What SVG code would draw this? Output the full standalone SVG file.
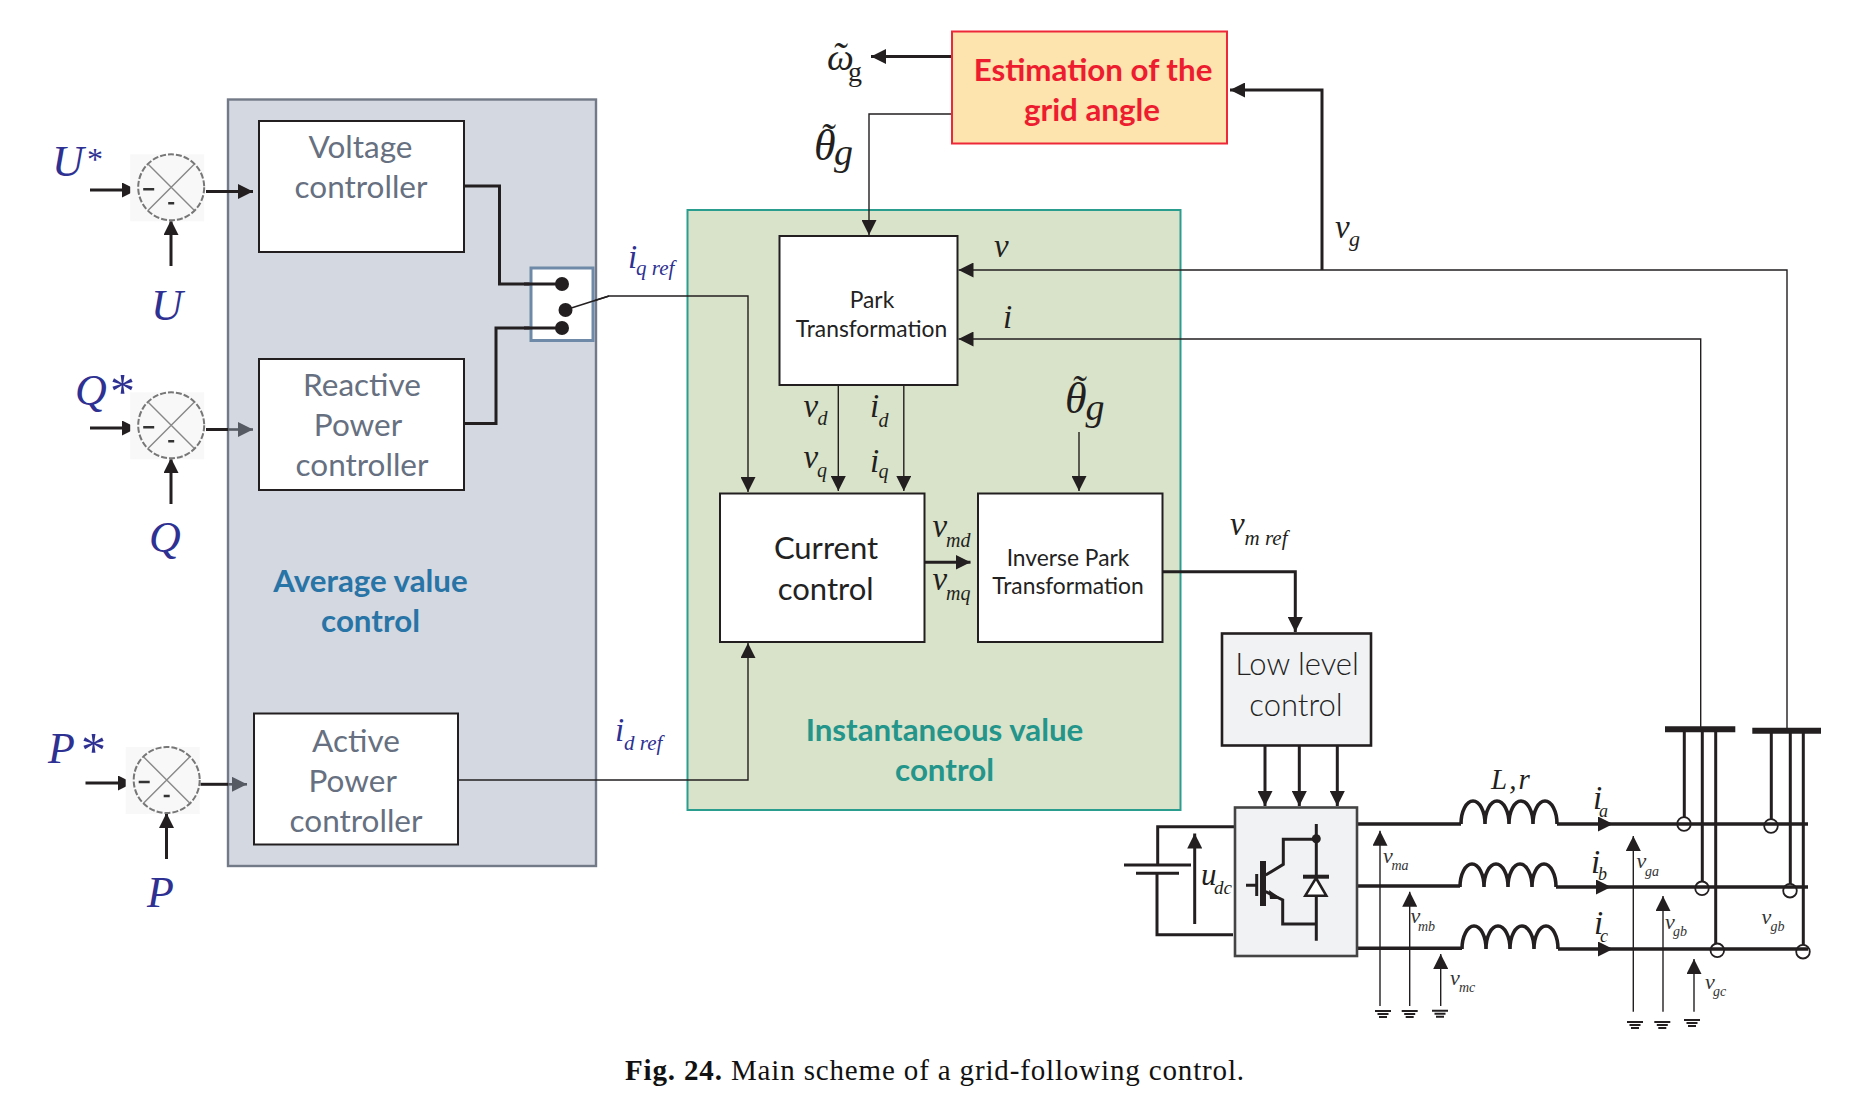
<svg xmlns="http://www.w3.org/2000/svg" width="1868" height="1104" viewBox="0 0 1868 1104">
<style>
.w{font-family:"Lato","Open Sans","Liberation Sans",sans-serif;text-anchor:middle}
.g{fill:#667080;font-size:31.500px}
.d{fill:#222;font-size:31px}
.s{fill:#222;font-size:22.800px}
.b{font-weight:700;font-size:31.300px}
.m{font-family:"Liberation Serif",serif;font-style:italic;fill:#231f20}
.bl{fill:#2e3192;font-size:44px}
.v{font-size:33px}
.sm{font-size:22px;fill:#333}
.box{fill:#fff;stroke:#231f20;stroke-width:2}
.w1{fill:none;stroke:#231f20;stroke-width:1.4}
.w2{fill:none;stroke:#231f20;stroke-width:3}
.w3{fill:none;stroke:#231f20;stroke-width:3.6}
.w4{fill:none;stroke:#231f20;stroke-width:3}
.a{marker-end:url(#ah)}
.ag{marker-end:url(#ag)}
</style>
<defs>
<marker id="ah" viewBox="0 0 15 15" markerUnits="userSpaceOnUse" markerWidth="15" markerHeight="15" refX="15" refY="7.500" orient="auto"><path d="M0 0L15 7.500L0 15z" fill="#231f20"/></marker>
<marker id="ag" viewBox="0 0 15 15" markerUnits="userSpaceOnUse" markerWidth="15" markerHeight="15" refX="15" refY="7.500" orient="auto"><path d="M0 0L15 7.500L0 15z" fill="#555a63"/></marker>
<g id="sum">
<rect x="-41" y="-33" width="74" height="67" fill="#f8f8f8"/>
<circle r="33" fill="#f8f8f8" stroke="#777" stroke-width="2" stroke-dasharray="6 2"/>
<path d="M-23-23L23 23M23-23L-23 23" fill="none" stroke="#888" stroke-width="1.400"/>
<path d="M-28 2h11M-3 16h6" stroke="#333" stroke-width="2.400" fill="none"/>
</g>
<g id="gnd"><path d="M-8 0h16M-5.500 3h11M-4 6h8" stroke="#231f20" stroke-width="2" fill="none"/></g>
</defs>
<rect width="1868" height="1104" fill="#fff"/>

<g id="average-value-control">
<rect x="228" y="99.500" width="368" height="766.500" fill="#d3d8e1" stroke="#737a87" stroke-width="2.400"/>
<text class="w b" x="370.500" y="592" fill="#2874a6">Average value</text>
<text class="w b" x="370.500" y="632" fill="#2874a6">control</text>
</g>
<g id="instantaneous-value-control">
<rect x="687.500" y="210" width="493" height="600" fill="#d9e3ca" stroke="#2a9d8f" stroke-width="2"/>
<text class="w b" x="944.500" y="741" fill="#24958a">Instantaneous value</text>
<text class="w b" x="944.500" y="781" fill="#24958a">control</text>
</g>

<g id="connectors">
<path class="w2 a" d="M90 190H137"/>
<path class="w2 a" d="M206 191.500H253"/>
<path class="w2 a" d="M171 266V220"/>
<path class="w2 a" d="M90 428H137"/>
<path class="w2" d="M206 429.500H228"/>
<path class="ag" d="M228 429.500H253" fill="none" stroke="#555a63" stroke-width="2.600"/>
<path class="w2 a" d="M171 504V458"/>
<path class="w2 a" d="M85.500 783H133"/>
<path class="w2" d="M200.500 784.300H228"/>
<path class="ag" d="M228 784.300H247" fill="none" stroke="#555a63" stroke-width="2.600"/>
<path class="w2 a" d="M166.500 859V813"/>
<path class="w2" d="M464 186H499.500V284H562"/>
<path class="w2" d="M464 423.500H496V328H562"/>
<path class="w1 a" d="M565 310L609 296H748V492"/>
<path class="w1 a" d="M458 780H748V643"/>
<path class="w2 a" d="M952 56.500H871"/>
<path class="w1 a" d="M952 114H869V235"/>
<path class="w2 a" d="M1322 270V90H1230"/>
<path class="w1 a" d="M1787 730V270H958.500"/>
<path class="w1 a" d="M1700.700 729V339H958.500"/>
<path class="w1 a" d="M838.300 385V491"/>
<path class="w1 a" d="M903.800 385V491"/>
<path class="w2 a" d="M925 562.300H970.500"/>
<path class="w1 a" d="M1079 432V491" stroke-width="2"/>
<path class="w2 a" d="M1162 571.700H1295.300V632"/>
<path class="w2 a" d="M1265 746V806"/>
<path class="w2 a" d="M1299.300 746V806"/>
<path class="w2 a" d="M1337.300 746V806"/>
<path class="w2" d="M1235 826.700H1157.700V865M1157 873V934.700H1233"/>
<path class="w2 a" d="M1194.700 924V833.500"/>
<path class="w3" d="M1357 824H1461M1357 886H1460M1357 948.300H1462"/>
<path class="w3" d="M1461 824a12 23 0 0 1 24 0a12 23 0 0 1 24 0a12 23 0 0 1 24 0a12 23 0 0 1 24 0"/>
<path class="w3" d="M1460 887a12 23 0 0 1 24 0a12 23 0 0 1 24 0a12 23 0 0 1 24 0a12 23 0 0 1 24 0"/>
<path class="w3" d="M1462 949a12 23 0 0 1 24 0a12 23 0 0 1 24 0a12 23 0 0 1 24 0a12 23 0 0 1 24 0"/>
<path class="w3 a" d="M1557 824H1613"/>
<path class="w3 a" d="M1556 887H1611"/>
<path class="w3 a" d="M1558 949H1613"/>
<path class="w3" d="M1613 824H1808M1611 887H1808M1613 949H1808"/>
<path class="w1 a" d="M1380 1006V830.700" stroke-width="1.800"/>
<path class="w1 a" d="M1409.700 1006V891.700"/>
<path class="w1 a" d="M1440.700 1006V954"/>
<path class="w1 a" d="M1633.300 1011.700V836"/>
<path class="w1 a" d="M1663 1011.700V896"/>
<path class="w1 a" d="M1694 1011.700V959"/>
<path class="w4" d="M1684.300 729V817M1702.300 729V881M1715.700 729V943M1771.300 731V819M1790.300 731V884M1803.300 731V945"/>
<path d="M1665 729.300H1735.300M1752.300 730.700H1821" fill="none" stroke="#231f20" stroke-width="6"/>
</g>

<g id="switch">
<rect x="531" y="268" width="62" height="72.500" fill="#fff" stroke="#6f8aa8" stroke-width="3"/>
<path class="w2" d="M524 284H562M524 328H562"/>
<circle cx="562" cy="284" r="7" fill="#231f20"/>
<circle cx="565.500" cy="310" r="7" fill="#231f20"/>
<circle cx="562" cy="328" r="7" fill="#231f20"/>
<path class="w1" d="M565 310L609 296"/>
</g>

<g id="sum-u"><use href="#sum" x="171.200" y="187.300"/></g>
<g id="sum-q"><use href="#sum" x="171.200" y="425.300"/></g>
<g id="sum-p"><use href="#sum" x="166.700" y="780"/></g>

<g id="inputs">
<text class="m bl" x="52" y="176">U<tspan x="87" y="170" font-size="32" font-style="normal">*</tspan></text>
<text class="m bl" x="151" y="320">U</text>
<text class="m bl" x="75" y="405">Q<tspan x="110" y="408" font-size="50" font-style="normal">*</tspan></text>
<text class="m bl" x="149" y="552">Q</text>
<text class="m bl" x="48" y="763">P<tspan x="81" y="767" font-size="50" font-style="normal">*</tspan></text>
<text class="m bl" x="147" y="907">P</text>
</g>

<g id="voltage-controller">
<rect class="box" x="259" y="121" width="205" height="131" stroke-width="2.600"/>
<text class="w g" x="360.500" y="158">Voltage</text>
<text class="w g" x="361" y="198">controller</text>
</g>
<g id="reactive-power-controller">
<rect class="box" x="259" y="359" width="205" height="131"/>
<text class="w g" x="362" y="396">Reactive</text>
<text class="w g" x="358" y="436">Power</text>
<text class="w g" x="362" y="476">controller</text>
</g>
<g id="active-power-controller">
<rect class="box" x="254" y="713.500" width="204" height="131"/>
<text class="w g" x="356" y="751.500">Active</text>
<text class="w g" x="352.700" y="792">Power</text>
<text class="w g" x="356" y="831.500">controller</text>
</g>
<g id="estimation">
<rect x="952" y="31.500" width="275" height="112" fill="#fde3ad" stroke="#ed2939" stroke-width="2"/>
<text class="w b" x="1093" y="80.500" fill="#ed1c2e">Estimation of the</text>
<text class="w b" x="1092" y="120.500" fill="#ed1c2e">grid angle</text>
</g>
<g id="park">
<rect class="box" x="779.500" y="236" width="178" height="149"/>
<text class="w s" x="872" y="308">Park</text>
<text class="w s" x="871.500" y="337">Transformation</text>
</g>
<g id="current-control">
<rect class="box" x="720" y="493.500" width="204.500" height="148.500"/>
<text class="w d" x="826" y="558.500">Current</text>
<text class="w d" x="825.700" y="599.500">control</text>
</g>
<g id="inverse-park">
<rect class="box" x="978" y="493.500" width="184.500" height="148.500" stroke-width="2.600"/>
<text class="w s" x="1068" y="565.500">Inverse Park</text>
<text class="w s" x="1068" y="594">Transformation</text>
</g>
<g id="low-level-control">
<rect x="1222" y="633.500" width="149" height="112" fill="#f1f2f4" stroke="#231f20" stroke-width="2.600"/>
<text class="w d" x="1297" y="675" font-weight="300">Low level</text>
<text class="w d" x="1296" y="715.500" font-weight="300">control</text>
</g>

<g id="inverter">
<rect x="1235" y="807.500" width="122" height="148.500" fill="#f1f2f4" stroke="#444" stroke-width="2.600"/>
<path class="w4" d="M1246 885.300H1256.700M1265.700 875L1283.300 864.300V839.300H1316.300M1316.300 824V940.700M1265.700 891.700L1282.700 900V924H1316"/>
<path d="M1256.700 874V896" stroke="#231f20" stroke-width="3"/>
<path d="M1263 861V906" stroke="#231f20" stroke-width="6"/>
<circle cx="1316.300" cy="838.700" r="4.500" fill="#231f20"/>
<path d="M1303 876.700H1329" stroke="#231f20" stroke-width="4"/>
<path d="M1316 878L1326.300 895.700H1305.300z" fill="#fff" stroke="#231f20" stroke-width="2.600"/>
<path d="M1269 890L1282 899L1270 899z" fill="#231f20"/>
</g>
<g id="battery">
<path d="M1124 865H1191M1136 873.300H1179" stroke="#231f20" stroke-width="3" fill="none"/>
</g>
<g id="grounds">
<use href="#gnd" x="1383" y="1011"/><use href="#gnd" x="1409.700" y="1011"/><use href="#gnd" x="1440" y="1010.700"/>
<use href="#gnd" x="1635" y="1022"/><use href="#gnd" x="1662.300" y="1022"/><use href="#gnd" x="1692" y="1020"/>
</g>
<g id="taps" fill="none" stroke="#231f20" stroke-width="1.800">
<circle cx="1684" cy="824" r="6.800"/><circle cx="1702" cy="888.300" r="6.800"/><circle cx="1717.300" cy="950.300" r="6.800"/>
<circle cx="1771" cy="826" r="6.800"/><circle cx="1790" cy="890.700" r="6.800"/><circle cx="1803" cy="951.700" r="6.800"/>
</g>

<g id="labels">
<text class="m" x="827" y="70" font-size="38">ω<tspan x="832" y="70" font-size="40">˜</tspan><tspan x="848" y="81" font-size="28" font-style="normal">g</tspan></text>
<text class="m" x="814" y="160" font-size="44">θ<tspan x="820" y="151" font-size="40">˜</tspan><tspan x="834" y="165" font-size="38">g</tspan></text>
<text class="m" x="1065" y="413" font-size="44">θ<tspan x="1071" y="403" font-size="40">˜</tspan><tspan x="1085.500" y="420" font-size="38">g</tspan></text>
<text class="m v" x="994" y="257">v</text>
<text class="m v" x="1003" y="328">i</text>
<text class="m v" x="1335" y="238">v<tspan x="1349" y="246" font-size="22">g</tspan></text>
<text class="m v" x="803.500" y="417">v<tspan x="817.500" y="425" font-size="20">d</tspan></text>
<text class="m v" x="870" y="417">i<tspan x="878.500" y="427" font-size="20">d</tspan></text>
<text class="m v" x="803.500" y="468">v<tspan x="817" y="476.500" font-size="20">q</tspan></text>
<text class="m v" x="870" y="471.500">i<tspan x="878.500" y="478" font-size="20">q</tspan></text>
<text class="m v" x="932.500" y="536.500">v<tspan x="946" y="546.500" font-size="20">md</tspan></text>
<text class="m v" x="932.500" y="590">v<tspan x="946" y="600" font-size="20">mq</tspan></text>
<text class="m v" x="1230" y="535">v<tspan x="1244.500" y="545" font-size="21">m ref</tspan></text>
<text class="m v" x="628" y="268" style="fill:#2e3192">i<tspan x="636" y="275" font-size="21">q ref</tspan></text>
<text class="m v" x="615" y="741" style="fill:#2e3192">i<tspan x="624" y="750" font-size="21">d ref</tspan></text>
<text class="m" x="1491" y="789" font-size="29" letter-spacing="2">L,r</text>
<text class="m v" x="1593" y="809">i<tspan x="1599" y="816.500" font-size="18">a</tspan></text>
<text class="m v" x="1591" y="872.500">i<tspan x="1598" y="880" font-size="18">b</tspan></text>
<text class="m v" x="1594" y="934">i<tspan x="1600" y="941.500" font-size="18">c</tspan></text>
<text class="m" x="1201" y="885" font-size="31">u<tspan x="1214" y="894" font-size="19">dc</tspan></text>
<text class="m sm" x="1383" y="863">v<tspan x="1391.500" y="870" font-size="14">ma</tspan></text>
<text class="m sm" x="1410.500" y="923">v<tspan x="1418" y="930.500" font-size="14">mb</tspan></text>
<text class="m sm" x="1450" y="985">v<tspan x="1459" y="991.500" font-size="14">mc</tspan></text>
<text class="m sm" x="1636.500" y="868">v<tspan x="1645" y="876" font-size="14">ga</tspan></text>
<text class="m sm" x="1665" y="929">v<tspan x="1673" y="935.500" font-size="14">gb</tspan></text>
<text class="m sm" x="1761.500" y="924">v<tspan x="1770.500" y="930.500" font-size="14">gb</tspan></text>
<text class="m sm" x="1705" y="989">v<tspan x="1713" y="996" font-size="14">gc</tspan></text>
</g>

<g id="caption">
<text x="625" y="1080" font-family="Liberation Serif, serif" font-size="29" letter-spacing="0.850" fill="#111"><tspan font-weight="700">Fig. 24.</tspan> Main scheme of a grid-following control.</text>
</g>
</svg>
